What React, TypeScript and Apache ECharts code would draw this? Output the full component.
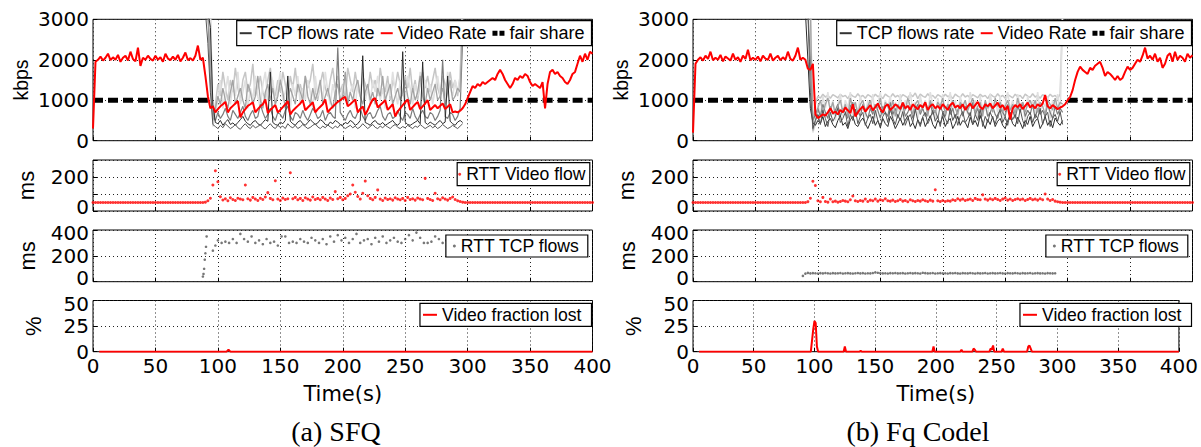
import { useEffect, useRef } from "react";
import * as echarts from "echarts";

// ---------------- data ----------------
const X_MAX = 400;
const X_INTERVAL = 50;
const RATE_STEP = 2; // seconds between rate / RTT-video samples
const FLOW_T0 = 90; // first TCP-flow sample (s)
const FLOW_STEP = 2; // seconds between TCP-flow samples
const RTT_TCP_FQ_T0 = 88;
const RTT_TCP_FQ_STEP = 2;
const FAIR_SHARE_KBPS = 1000;
// parts of the fair-share line that are not hidden behind the TCP flows
const FAIR_SHARE_SPANS = [[0, 92], [300, 400]];

const PANEL_CAPTIONS = ["(a) SFQ", "(b) Fq Codel"];
const Y_NAMES = ["kbps", "ms", "ms", "%"];
const Y_MAX = [3000, 300, 400, 50];
const Y_INTERVAL = [1000, 100, 200, 25];
const Y_LABELS = [
  [0, 1000, 2000, 3000],
  [0, 200],
  [0, 200, 400],
  [0, 25, 50],
];

// Video rate (kbps), one value every 2 s from t=0 to t=400
const sfqVideoRate = [
  300, 1950, 2000, 2080, 1980, 2050, 2150, 1990, 2060, 2000,
  2120, 1950, 2050, 2100, 1980, 2200, 2020, 1960, 2300, 1850,
  2050, 2000, 2100, 2020, 1980, 2100, 2000, 2060, 1950, 2150,
  2030, 1990, 2080, 2000, 2120, 1960, 2050, 2180, 1990, 2040,
  1980, 2100, 2350, 2000, 2050, 1600, 1100, 800, 850, 700,
  780, 850, 900, 960, 700, 800, 860, 920, 980, 580,
  700, 780, 860, 900, 950, 700, 780, 850, 900, 1020,
  680, 760, 820, 880, 700, 760, 830, 900, 980, 650,
  740, 800, 860, 920, 1000, 750, 820, 880, 950, 700,
  780, 840, 900, 1020, 700, 780, 840, 900, 960, 1000,
  1050, 1080, 850, 900, 960, 1020, 700, 780, 850, 640,
  760, 900, 1020, 1050, 820, 880, 940, 1000, 760, 830,
  900, 600, 720, 800, 880, 950, 1020, 760, 830, 900,
  960, 780, 850, 920, 1000, 760, 820, 880, 800, 860,
  920, 780, 840, 900, 700, 720, 700, 740, 800, 900,
  1050, 1200, 1350, 1300, 1400, 1350, 1450, 1400, 1450, 1500,
  1550, 1500, 1650, 1750, 1650, 1500, 1400, 1300, 1400, 1550,
  1500, 1600, 1550, 1650, 1600, 1450, 1350, 1400, 1350, 1300,
  1450, 800, 1400, 1700, 1750, 1650, 1700, 1600, 1550, 1450,
  1400, 1500, 1650, 1700, 1900, 2100, 1950, 2150, 2000, 2200,
  2150,
];

const fqVideoRate = [
  200, 1900, 2000, 2060, 1980, 2100, 2020, 2200, 1990, 2050,
  2000, 2120, 1960, 2080, 2030, 1980, 2150, 2000, 2060, 1950,
  2100, 2020, 2250, 1990, 2050, 2000, 2080, 1960, 2100, 2030,
  2000, 2150, 1980, 2050, 2100, 1990, 2060, 2000, 2200, 2020,
  1980, 2100, 2300, 2000, 2050, 2000, 1780, 1750, 1900, 650,
  560, 600, 650, 620, 700, 800, 680, 720, 650, 760,
  700, 820, 750, 680, 900, 600, 700, 780, 850, 720,
  800, 880, 750, 830, 920, 780, 700, 850, 900, 760,
  820, 900, 850, 780, 940, 800, 860, 760, 900, 830,
  780, 880, 820, 950, 760, 850, 900, 800, 860, 780,
  900, 830, 760, 880, 940, 820, 870, 800, 900, 760,
  850, 920, 800, 880, 960, 830, 780, 900, 850, 920,
  800, 870, 940, 820, 880, 760, 860, 520, 800, 880,
  830, 900, 780, 860, 940, 820, 880, 800, 900, 850,
  920, 1130, 850, 800, 880, 830, 780, 820, 850, 900,
  1000, 1080, 1250, 1500, 1700, 1830, 1750, 1700, 1650, 1800,
  1750, 1850, 1900, 1950, 1800, 1600, 1700, 1650, 1580, 1500,
  1600, 1500, 1550, 1700, 1830, 1750, 1800, 1900, 2000, 1950,
  2100, 2300, 2030, 2100, 2000, 2150, 1950, 2050, 1800, 1900,
  2100, 2160, 1950, 2200, 1995, 2100, 2050, 1950, 2150, 2050,
  2110,
];

// TCP flow rates (kbps), one value every 2 s from t=90 to t=296
const sfqFlow1 = [
  3200, 3200, 2800, 900, 450, 420, 500, 380, 460, 520, 400, 440, 380,
  450, 520, 600, 480, 420, 380, 460, 500, 420, 380, 450, 520, 480,
  1700, 450, 400, 380, 460, 420, 500, 1600, 480, 420, 380, 460, 500,
  420, 380, 450, 520, 460, 400, 440, 520, 480, 400, 380, 460, 420,
  500, 460, 400, 380, 450, 420, 500, 460, 380, 420, 500, 2100, 450,
  420, 380, 460, 500, 420, 400, 450, 380, 420, 460, 500, 420, 380,
  450, 2200, 460, 400, 380, 420, 460, 500, 420, 1950, 450, 400, 460,
  420, 380, 450, 500, 420, 460, 1600, 480, 420, 380, 460, 500, 450,
];
const sfqFlow2 = [
  3200, 2400, 1200, 400, 350, 300, 380, 320, 420, 360, 300, 340, 400,
  320, 280, 360, 420, 340, 300, 380, 320, 350, 400, 330, 290, 360,
  420, 340, 300, 380, 330, 360, 300, 420, 350, 320, 380, 300, 340,
  400, 350, 300, 330, 380, 420, 340, 300, 360, 320, 390, 340, 300,
  360, 320, 400, 350, 300, 340, 380, 320, 360, 300, 340, 420, 360,
  300, 350, 400, 330, 300, 360, 320, 380, 340, 300, 360, 400, 330,
  300, 350, 320, 380, 340, 300, 360, 330, 400, 350, 300, 340, 380,
  320, 360, 300, 340, 400, 350, 300, 330, 380, 340, 300, 360, 420,
];
const sfqFlow3 = [
  3200, 3200, 1500, 600, 500, 700, 550, 650, 800, 600, 500, 750, 650,
  550, 700, 850, 600, 500, 650, 750, 550, 600, 900, 700, 550, 650,
  800, 600, 500, 700, 650, 550, 750, 850, 600, 500, 700, 650, 550,
  750, 600, 500, 650, 800, 700, 550, 600, 750, 500, 650, 700, 600,
  550, 2300, 700, 600, 500, 650, 750, 600, 550, 700, 800, 600, 500,
  650, 700, 550, 600, 750, 850, 600, 500, 650, 700, 550, 600, 750,
  600, 500, 700, 650, 550, 800, 600, 500, 650, 750, 600, 550, 700,
  650, 500, 600, 750, 2000, 600, 550, 700, 650, 500, 600, 800, 2500,
];
const sfqFlow4 = [
  3200, 3200, 2000, 500, 800, 1100, 900, 1300, 1000, 800, 1200, 1500, 900,
  1100, 1300, 1000, 800, 1400, 1200, 900, 1100, 1600, 1000, 800, 1200, 1400,
  1000, 1300, 900, 1100, 1500, 1200, 800, 1000, 1300, 1100, 900, 1400, 1200,
  1000, 1600, 1100, 900, 1300, 1000, 1200, 1500, 900, 1100, 1300, 1000, 800,
  1200, 1400, 1000, 1100, 1700, 900, 1200, 1000, 1300, 1500, 1100, 900, 1200,
  1400, 1000, 1200, 900, 1300, 1100, 1600, 1000, 1200, 1400, 900, 1100, 1300,
  1000, 1200, 1500, 1100, 900, 1300, 1000, 1200, 1600, 1100, 900, 1300, 1000,
  1200, 1400, 1000, 1100, 1300, 900, 1200, 1500, 1000, 1100, 1300, 1200, 3200,
];
const sfqFlow5 = [
  3200, 3200, 3200, 400, 900, 1400, 1100, 1700, 1300, 1000, 1500, 1200, 1800,
  1300, 1000, 1500, 1700, 1200, 1400, 1900, 1100, 1300, 1600, 1200, 1000, 1500,
  1800, 1300, 1100, 1500, 1200, 1700, 1400, 1000, 1600, 1300, 1800, 1200, 1400,
  1100, 1600, 1300, 1500, 1900, 1200, 1000, 1400, 1700, 1300, 1100, 1500, 1800,
  1300, 1600, 1200, 1400, 1000, 1800, 1500, 1200, 1700, 1300, 1100, 1600, 1400,
  1200, 1700, 1300, 1500, 1100, 1800, 1400, 1200, 1600, 1000, 1500, 1300, 1700,
  1400, 1100, 1600, 1300, 1800, 1200, 1500, 1000, 1400, 1700, 1300, 1600, 1200,
  1500, 1800, 1300, 1100, 1600, 1400, 1200, 1700, 1300, 1500, 1100, 1600, 3200,
];
const sfqFlow6 = [
  3200, 3200, 3200, 350, 700, 1000, 1500, 800, 1200, 1600, 900, 1400, 1100,
  1700, 900, 1200, 1500, 800, 1300, 1000, 1600, 1100, 800, 1400, 1700, 1000,
  1200, 1500, 900, 1300, 1700, 1000, 1200, 1500, 800, 1400, 1100, 1600, 900,
  1300, 1000, 1500, 1200, 800, 1600, 1100, 1400, 1000, 1700, 1200, 900, 1400,
  1100, 1500, 900, 1300, 1600, 1000, 1200, 1400, 800, 1500, 1100, 1700, 1000,
  1300, 900, 1500, 1200, 1600, 1000, 1300, 800, 1400, 1100, 1700, 1200, 900,
  1500, 1200, 1000, 1600, 1300, 900, 1400, 1100, 1700, 1000, 1500, 1200, 1400,
  900, 1300, 1600, 1100, 1400, 1000, 1700, 1300, 1100, 1500, 1200, 1600, 3200,
];

const fqFlow1 = [
  3200, 2000, 800, 450, 380, 500, 420, 600, 350, 480, 550, 400, 320,
  500, 620, 380, 450, 300, 520, 600, 400, 350, 480, 560, 420, 300,
  450, 600, 380, 500, 320, 550, 420, 350, 600, 480, 300, 420, 560,
  380, 500, 620, 350, 450, 300, 520, 400, 580, 350, 480, 620, 400,
  300, 500, 420, 600, 350, 480, 550, 300, 420, 600, 380, 500, 450,
  320, 580, 400, 500, 350, 620, 450, 300, 520, 400, 600, 350, 480,
  550, 380, 300, 500, 620, 420, 350, 580, 450, 300, 500, 400, 600,
  350, 480, 550, 300, 420, 600, 380, 500, 320, 560, 450, 380, 500,
];
const fqFlow2 = [
  3200, 3200, 1200, 300, 500, 650, 400, 750, 550, 350, 700, 480, 600,
  800, 450, 550, 700, 350, 650, 500, 780, 420, 600, 700, 380, 550,
  650, 420, 750, 500, 350, 600, 700, 450, 800, 550, 400, 650, 500,
  720, 380, 550, 650, 450, 780, 500, 350, 600, 700, 420, 550, 750,
  480, 600, 350, 700, 550, 420, 800, 500, 650, 380, 600, 720, 450,
  550, 700, 400, 650, 500, 780, 350, 600, 450, 700, 550, 420, 650,
  750, 450, 600, 380, 700, 520, 650, 420, 780, 500, 350, 600, 700,
  450, 650, 550, 800, 400, 600, 700, 350, 550, 650, 480, 720, 400,
];
const fqFlow3 = [
  3200, 3200, 2000, 500, 650, 800, 600, 900, 700, 550, 850, 650, 750,
  900, 600, 800, 700, 550, 850, 950, 650, 750, 600, 900, 700, 550,
  800, 650, 900, 750, 550, 850, 700, 600, 950, 650, 800, 550, 750,
  900, 600, 700, 850, 550, 750, 900, 650, 800, 600, 700, 950, 650,
  750, 550, 850, 700, 600, 900, 650, 800, 550, 750, 900, 600, 850,
  700, 600, 950, 650, 800, 550, 750, 900, 600, 700, 850, 650, 550,
  800, 700, 600, 900, 650, 750, 550, 850, 700, 950, 600, 750, 650,
  900, 550, 800, 650, 750, 600, 900, 700, 550, 850, 650, 800, 700,
];
const fqFlow4 = [
  3200, 3200, 3200, 250, 500, 800, 1000, 700, 900, 1050, 750, 950, 650,
  850, 1000, 700, 900, 600, 1050, 800, 950, 650, 900, 1000, 750, 850,
  1000, 700, 900, 800, 1050, 650, 950, 850, 700, 1000, 600, 900, 800,
  950, 750, 1050, 850, 650, 900, 1000, 700, 850, 950, 600, 1000, 800,
  700, 950, 850, 1050, 650, 900, 750, 1000, 800, 650, 950, 850, 1000,
  750, 900, 1050, 700, 850, 950, 600, 1000, 800, 900, 700, 1050, 850,
  950, 700, 850, 1000, 750, 900, 650, 1050, 800, 950, 700, 900, 1000,
  800, 1000, 700, 950, 850, 650, 1000, 900, 750, 1050, 800, 950, 900,
];
const fqFlow5 = [
  3200, 3200, 3200, 350, 900, 1100, 1050, 1150, 1080, 1120, 1050, 1140, 1100,
  1060, 1150, 1090, 1120, 1040, 1150, 1100, 1070, 1160, 1080, 1120, 1050, 1140,
  1100, 1060, 1150, 1090, 1120, 1040, 1150, 1100, 1070, 1160, 1080, 1120, 1050,
  1140, 1100, 1060, 1150, 1090, 1180, 1040, 1150, 1100, 1070, 1160, 1080, 1120,
  1050, 1140, 1100, 1060, 1150, 1090, 1120, 1040, 1150, 1100, 1070, 1160, 1080,
  1120, 1050, 1140, 1100, 1060, 1150, 1090, 1120, 1040, 1150, 1100, 1070, 1160,
  1080, 1120, 1050, 1140, 1100, 1060, 1150, 1090, 1120, 1040, 1150, 1100, 1070,
  1160, 1080, 1120, 1050, 1140, 1100, 1060, 1150, 1090, 1120, 1040, 1150, 3200,
];
const fqFlow6 = [
  3200, 3200, 3200, 200, 400, 900, 600, 1100, 800, 1200, 700, 1000, 500,
  900, 1150, 600, 1000, 800, 1200, 500, 950, 700, 1100, 850, 600, 1000,
  750, 1150, 550, 900, 1200, 650, 1000, 800, 1100, 500, 950, 700, 1150,
  600, 1000, 850, 1200, 700, 950, 550, 1100, 800, 1000, 650, 1200, 900,
  500, 1050, 750, 1150, 600, 900, 1200, 700, 1000, 550, 1100, 800, 950,
  650, 1200, 850, 1000, 500, 1100, 750, 950, 600, 1150, 800, 1000, 700,
  1100, 550, 900, 1200, 750, 1000, 600, 1150, 850, 950, 500, 1100, 800,
  1000, 650, 1200, 700, 950, 850, 1100, 550, 1000, 800, 1150, 600, 3200,
];

const sfqFlows = [sfqFlow1, sfqFlow2, sfqFlow3, sfqFlow4, sfqFlow5, sfqFlow6];
const fqFlows = [fqFlow1, fqFlow2, fqFlow3, fqFlow4, fqFlow5, fqFlow6];

// RTT of the video flow (ms), one value every 2 s from t=0 to t=400
const sfqRttVideo = [
  50, 50, 50, 50, 50, 50, 50, 50, 50, 50,
  50, 50, 50, 50, 50, 50, 50, 50, 50, 50,
  50, 50, 50, 50, 50, 50, 50, 50, 50, 50,
  50, 50, 50, 50, 50, 50, 50, 50, 50, 50,
  50, 50, 50, 50, 50, 52, 60, 75, 153, 237,
  172, 84, 65, 72, 60, 78, 68, 62, 75, 70,
  66, 153, 72, 64, 80, 70, 62, 75, 68, 82,
  108, 74, 66, 178, 70, 62, 76, 68, 72, 225,
  72, 80, 66, 74, 62, 78, 70, 64, 82, 68,
  74, 66, 80, 70, 62, 76, 68, 114, 72, 80,
  66, 74, 90, 100, 153, 110, 85, 70, 104, 176,
  90, 74, 66, 80, 124, 70, 62, 76, 68, 72,
  64, 78, 70, 66, 74, 62, 80, 68, 72, 64,
  76, 70, 66, 192, 74, 68, 62, 104, 72, 66,
  78, 70, 64, 74, 82, 68, 60, 56, 52, 50,
  50, 50, 50, 50, 50, 50, 50, 50, 50, 50,
  50, 50, 50, 50, 50, 50, 50, 50, 50, 50,
  50, 50, 50, 50, 50, 50, 50, 50, 50, 50,
  50, 50, 50, 50, 50, 50, 50, 50, 50, 50,
  50, 50, 50, 50, 50, 50, 50, 50, 50, 50,
  50,
];

const fqRttVideo = [
  50, 50, 50, 50, 50, 50, 50, 50, 50, 50,
  50, 50, 50, 50, 50, 50, 50, 50, 50, 50,
  50, 50, 50, 50, 50, 50, 50, 50, 50, 50,
  50, 50, 50, 50, 50, 50, 50, 50, 50, 50,
  50, 50, 50, 50, 50, 50, 55, 75, 175, 150,
  60, 54, 80, 56, 52, 70, 54, 58, 52, 56,
  62, 58, 54, 66, 88, 60, 56, 62, 58, 70,
  56, 64, 60, 70, 58, 66, 62, 72, 60, 58,
  64, 56, 60, 68, 58, 62, 54, 66, 60, 56,
  62, 58, 66, 60, 56, 64, 58, 125, 60, 56,
  62, 56, 60, 58, 66, 62, 72, 64, 70, 62,
  66, 70, 62, 74, 68, 66, 95, 70, 64, 72,
  66, 74, 68, 62, 70, 76, 64, 70, 62, 68,
  72, 66, 70, 62, 68, 74, 66, 70, 64, 72,
  66, 100, 70, 62, 68, 58, 54, 52, 50, 50,
  50, 50, 50, 50, 50, 50, 50, 50, 50, 50,
  50, 50, 50, 50, 50, 50, 50, 50, 50, 50,
  50, 50, 50, 50, 50, 50, 50, 50, 50, 50,
  50, 50, 50, 50, 50, 50, 50, 50, 50, 50,
  50, 50, 50, 50, 50, 50, 50, 50, 50, 50,
  50,
];

// RTT of the TCP flows (ms): SFQ as [t, ms] samples
const sfqRttTcp = [
  [88, 40], [88.5, 60], [89, 100], [89.5, 170], [90, 220], [90.5, 270], [91, 350],
  [96, 240], [98, 280], [100, 320], [103, 300], [106, 310], [109, 300], [112, 330],
  [115, 300], [118, 370], [121, 330], [124, 310], [127, 350], [130, 300], [133, 320],
  [136, 290], [139, 330], [142, 300], [145, 310], [148, 280], [151, 350], [154, 350],
  [157, 300], [160, 310], [163, 300], [166, 330], [169, 310], [172, 300], [175, 340],
  [178, 320], [181, 300], [184, 330], [187, 290], [190, 350], [193, 310], [196, 360],
  [199, 320], [202, 340], [205, 300], [208, 330], [211, 370], [214, 300], [217, 320],
  [220, 330], [223, 290], [226, 340], [229, 310], [232, 350], [235, 300], [238, 320],
  [241, 340], [244, 310], [247, 300], [250, 330], [253, 360], [256, 320], [259, 380],
  [262, 340], [265, 300], [268, 300], [271, 310], [274, 350], [277, 330], [280, 300],
  [283, 320], [286, 290], [289, 340],
];

// Fq Codel TCP RTT (ms), one value every 2 s from t=88 to t=290
const fqRttTcp = [
  45, 62, 68, 64, 66, 65, 63, 66, 64, 67,
  65, 63, 66, 64, 65, 67, 63, 65, 66, 64,
  63, 65, 67, 64, 66, 63, 65, 64, 67, 72,
  69, 66, 64, 65, 63, 66, 65, 67, 64, 65,
  66, 63, 65, 67, 64, 66, 65, 63, 69, 66,
  64, 65, 67, 63, 65, 66, 64, 65, 63, 66,
  65, 67, 64, 63, 66, 65, 64, 67, 65, 63,
  66, 64, 65, 67, 63, 65, 66, 64, 65, 67,
  64, 63, 66, 65, 64, 67, 65, 63, 66, 64,
  65, 67, 63, 65, 66, 64, 65, 63, 66, 65,
  64, 65,
];

// Video fraction lost (%), [t, %]
const sfqLoss = [[5, 0], [107, 0], [108.5, 2], [110, 0], [400, 0]];
const fqLoss = [
  [5, 0], [97, 0], [99, 22], [100, 30], [101, 28], [102, 5], [103, 0],
  [124, 0], [125, 5], [126, 0], [137, 0], [138, 1], [139, 0],
  [197, 0], [198, 5], [199, 0], [220, 0], [221, 2], [222, 0],
  [230, 0], [231, 3], [232, 2], [233, 0], [244, 0], [245, 3], [246, 2], [247, 6], [248, 0],
  [254, 0], [255, 3], [256, 0], [275, 0], [276, 5], [277, 6], [278, 3], [279, 0], [400, 0],
];

// ---------------- styling / layout ----------------
const W = 1201;
const H = 447;
const PANEL_LEFT = [93, 693];
const PLOT_W = 499.5;
const ROWS = [
  { top: 19.3, height: 121.4 },
  { top: 160, height: 51 },
  { top: 230, height: 51.7 },
  { top: 300.5, height: 51.2 },
];
const Y_NAME_GAP = [72.5, 67, 66, 59.7];
const Y_NAME_SIZE = [19.5, 22, 22, 22];
// end labels nudged inwards, as in the reference (rows 2-4)
const Y_LABEL_SHIFT_BOTTOM = [false, true, true, false];
const Y_LABEL_SHIFT_TOP = [false, false, true, true];
const CAPTION_X = [336, 918];
const CAPTION_Y = 431;
const FLOW_COLORS = ["#2b2b2b", "#555555", "#7c7c7c", "#a3a3a3", "#c6c6c6", "#e0e0e0"];
const FLOW_WIDTHS = [1, 1, 1.2, 1.3, 1.5, 1.6];
const FLOW_Z = [5, 5, 4, 4, 3, 3];
const RED = "#ff0000";
const TICK_FONT = "DejaVu Sans";
const SANS = "Liberation Sans";
const SERIF = "Liberation Serif";
const LINE_ICON_12 = "path://M0,0M12,5M0,1.5h12v2h-12z";
const LINE_ICON_14 = "path://M0,0M14,5M0,1.5h14v2h-14z";
const SQUARES_ICON = "path://M0,0h5v5h-5zM7,0h5v5h-5z";

const rateData = (arr: number[]) => arr.map((v, i) => [i * RATE_STEP, v]);
const flowData = (arr: number[]) => arr.map((v, i) => [FLOW_T0 + i * FLOW_STEP, v]);
const fqRttTcpData = fqRttTcp.map((v, i) => [RTT_TCP_FQ_T0 + i * RTT_TCP_FQ_STEP, v]);
const fairShareData = () => {
  const out: any[] = [];
  FAIR_SHARE_SPANS.forEach((s, i) => {
    if (i > 0) out.push([(FAIR_SHARE_SPANS[i - 1][1] + s[0]) / 2, null]);
    out.push([s[0], FAIR_SHARE_KBPS], [s[1], FAIR_SHARE_KBPS]);
  });
  return out;
};

function buildOption() {
  const grid: any[] = [];
  const xAxis: any[] = [];
  const yAxis: any[] = [];
  const series: any[] = [];
  const legend: any[] = [];
  const graphic: any[] = [];

  const panels = [
    { flows: sfqFlows, video: sfqVideoRate, rttV: sfqRttVideo, rttT: sfqRttTcp, loss: sfqLoss },
    { flows: fqFlows, video: fqVideoRate, rttV: fqRttVideo, rttT: fqRttTcpData, loss: fqLoss },
  ];

  const labelBase = { fontFamily: TICK_FONT, fontSize: 20, color: "#000" };

  panels.forEach((p, pi) => {
    ROWS.forEach((r, ri) => {
      const gi = pi * 4 + ri;
      grid.push({
        left: PANEL_LEFT[pi],
        top: r.top,
        width: PLOT_W,
        height: r.height,
        show: true,
        borderColor: "#000",
        borderWidth: 1,
        backgroundColor: "transparent",
      });
      const bottom = ri === 3;
      xAxis.push({
        type: "value",
        gridIndex: gi,
        min: 0,
        max: X_MAX,
        interval: X_INTERVAL,
        axisLine: { show: false },
        axisTick: { show: true, inside: true, length: 4, lineStyle: { color: "#000" } },
        axisLabel: { show: bottom, margin: 4, ...labelBase },
        splitLine: { show: true, lineStyle: { color: "#222", width: 1, type: [1, 3] } },
        name: bottom ? "Time(s)" : "",
        nameLocation: "middle",
        nameGap: 42,
        nameTextStyle: { fontFamily: TICK_FONT, fontSize: 21, color: "#000", verticalAlign: "middle" },
      });
      const labels = Y_LABELS[ri];
      const maxV = Y_MAX[ri];
      yAxis.push({
        type: "value",
        gridIndex: gi,
        min: 0,
        max: maxV,
        interval: Y_INTERVAL[ri],
        axisLine: { show: false },
        axisTick: { show: true, inside: true, length: 4, lineStyle: { color: "#000" } },
        axisLabel: {
          margin: 4,
          ...labelBase,
          formatter: (v: number) => {
            if (labels.indexOf(v) < 0) return "";
            if (v === 0 && Y_LABEL_SHIFT_BOTTOM[ri]) return "{up|" + v + "}";
            if (v === maxV && Y_LABEL_SHIFT_TOP[ri]) return "{dn|" + v + "}";
            return String(v);
          },
          rich: {
            up: { ...labelBase, padding: [0, 0, 8, 0] },
            dn: { ...labelBase, padding: [6, 0, 0, 0] },
          },
        },
        splitLine: { show: true, lineStyle: { color: "#222", width: 1, type: [1, 3] } },
        name: Y_NAMES[ri],
        nameLocation: "middle",
        nameRotate: 90,
        nameGap: Y_NAME_GAP[ri],
        nameTextStyle: {
          fontFamily: SANS,
          fontSize: Y_NAME_SIZE[ri],
          color: "#000",
          align: "center",
          verticalAlign: "middle",
        },
      });
    });

    const g0 = pi * 4;
    series.push({
      name: "fair share",
      type: "line",
      xAxisIndex: g0,
      yAxisIndex: g0,
      data: fairShareData(),
      connectNulls: false,
      symbol: "none",
      itemStyle: { color: "#000" },
      lineStyle: { color: "#000", width: 5, type: [10, 5] },
      z: 2,
      silent: true,
    });
    p.flows.forEach((f, fi) => {
      series.push({
        name: "TCP flows rate",
        type: "line",
        xAxisIndex: g0,
        yAxisIndex: g0,
        data: flowData(f),
        symbol: "none",
        itemStyle: { color: FLOW_COLORS[fi] },
        lineStyle: { color: FLOW_COLORS[fi], width: FLOW_WIDTHS[fi] },
        z: FLOW_Z[fi],
        silent: true,
      });
    });
    series.push({
      name: "Video Rate",
      type: "line",
      xAxisIndex: g0,
      yAxisIndex: g0,
      data: rateData(p.video),
      symbol: "none",
      itemStyle: { color: RED },
      lineStyle: { color: RED, width: 2 },
      z: 6,
      silent: true,
    });
    series.push({
      name: "RTT Video flow",
      type: "scatter",
      xAxisIndex: g0 + 1,
      yAxisIndex: g0 + 1,
      data: rateData(p.rttV),
      symbol: "circle",
      symbolSize: 3,
      itemStyle: { color: RED },
      z: 6,
      silent: true,
    });
    series.push({
      name: "RTT TCP flows",
      type: "scatter",
      xAxisIndex: g0 + 2,
      yAxisIndex: g0 + 2,
      data: p.rttT,
      symbol: "circle",
      symbolSize: 2.6,
      itemStyle: { color: "#555" },
      z: 6,
      silent: true,
    });
    series.push({
      name: "Video fraction lost",
      type: "line",
      xAxisIndex: g0 + 3,
      yAxisIndex: g0 + 3,
      data: p.loss,
      symbol: "none",
      itemStyle: { color: RED },
      lineStyle: { color: RED, width: 2 },
      z: 6,
      silent: true,
    });

    const re = PANEL_LEFT[pi] + PLOT_W - 1;
    const common = {
      orient: "horizontal",
      selectedMode: false,
      backgroundColor: "#fff",
      borderColor: "#000",
      borderWidth: 1.2,
      z: 10,
      textStyle: { fontFamily: SANS, fontSize: 17.6, color: "#000", lineHeight: 19 },
    };
    legend.push({
      ...common,
      top: 20.7,
      right: W - re,
      padding: [3, 7, 3, 3],
      itemGap: 6,
      itemWidth: 12,
      itemHeight: 5,
      textStyle: { fontFamily: SANS, fontSize: 18, color: "#000", lineHeight: 19 },
      data: [
        { name: "TCP flows rate", icon: LINE_ICON_12, itemStyle: { color: "#333" } },
        { name: "Video Rate", icon: LINE_ICON_12, itemStyle: { color: RED } },
        { name: "fair share", icon: SQUARES_ICON, itemStyle: { color: "#000" } },
      ],
    });
    legend.push({
      ...common,
      top: 162.7,
      right: W - (re - 1.7),
      padding: [2, 4, 2, 1],
      itemWidth: 3,
      itemHeight: 3,
      data: [{ name: "RTT Video flow", icon: "circle" }],
    });
    legend.push({
      ...common,
      top: 235,
      right: W - (re - 3.7),
      padding: [2, 8, 2, 7],
      itemWidth: 3,
      itemHeight: 3,
      textStyle: { fontFamily: SANS, fontSize: 17.6, color: "#000", lineHeight: 18 },
      data: [{ name: "RTT TCP flows", icon: "circle" }],
    });
    legend.push({
      ...common,
      top: 303.3,
      right: W - re,
      padding: [2, 10, 2, 3],
      itemWidth: 14,
      itemHeight: 5,
      data: [{ name: "Video fraction lost", icon: LINE_ICON_14, itemStyle: { color: RED } }],
    });

    graphic.push({
      type: "text",
      x: CAPTION_X[pi],
      y: CAPTION_Y,
      style: {
        text: PANEL_CAPTIONS[pi],
        fontFamily: SERIF,
        fontSize: 28,
        fill: "#000",
        align: "center",
        verticalAlign: "middle",
        textAlign: "center",
        textVerticalAlign: "middle",
      },
    });
  });

  return {
    animation: false,
    backgroundColor: "#fff",
    grid,
    xAxis,
    yAxis,
    series,
    legend,
    graphic,
  };
}

export default function App() {
  const ref = useRef<HTMLDivElement>(null);
  useEffect(() => {
    if (!ref.current) return;
    const chart = echarts.init(ref.current, undefined, { renderer: "svg", width: W, height: H });
    chart.setOption(buildOption() as any);
    return () => chart.dispose();
  }, []);
  return (
    <div
      ref={ref}
      style={{ position: "absolute", left: 0, top: 0, width: W, height: H, background: "#fff" }}
    />
  );
}
